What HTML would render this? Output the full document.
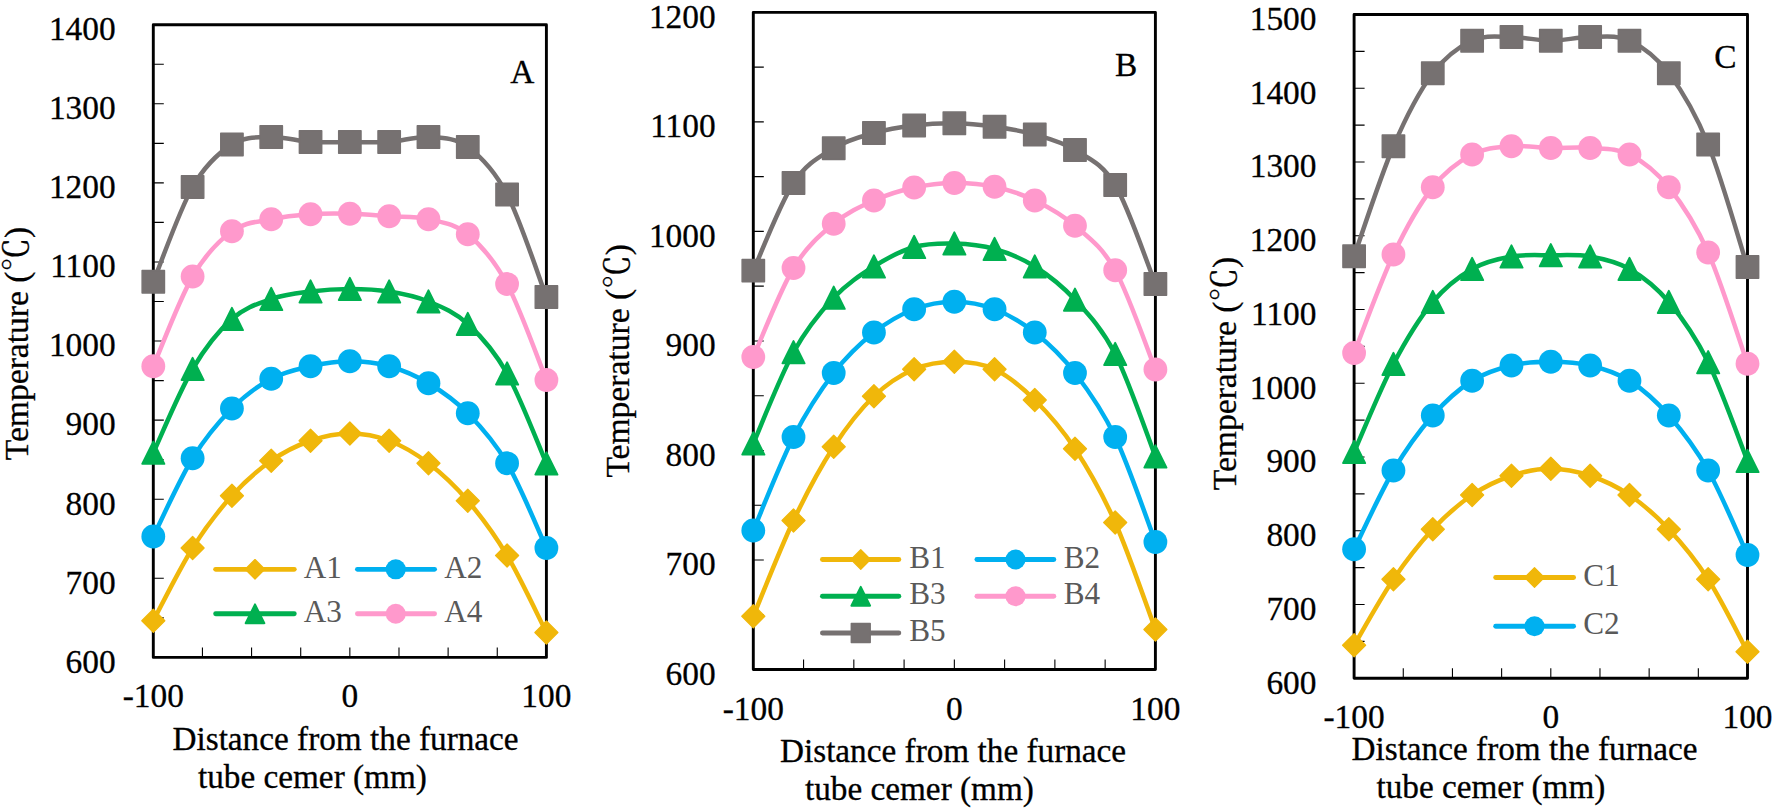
<!DOCTYPE html>
<html lang="en"><head><meta charset="utf-8"><title>Temperature distribution</title>
<style>html,body{margin:0;padding:0;background:#fff}body{width:1772px;height:810px;overflow:hidden}svg{display:block}</style></head>
<body>
<svg width="1772" height="810" viewBox="0 0 1772 810">
<rect width="1772" height="810" fill="#fff"/>
<g class="panel-A">
<path d="M153.3,617.86 h10.5 M153.3,578.31 h10.5 M153.3,538.77 h10.5 M153.3,499.23 h10.5 M153.3,459.68 h10.5 M153.3,420.14 h10.5 M153.3,380.59 h10.5 M153.3,341.05 h10.5 M153.3,301.51 h10.5 M153.3,261.96 h10.5 M153.3,222.42 h10.5 M153.3,182.88 h10.5 M153.3,143.33 h10.5 M153.3,103.79 h10.5 M153.3,64.24 h10.5 M202.44,657.4 v-10 M251.57,657.4 v-10 M300.71,657.4 v-10 M349.85,657.4 v-10 M398.99,657.4 v-10 M448.12,657.4 v-10 M497.26,657.4 v-10" stroke="#000" stroke-width="1.1" fill="none"/>
<rect x="153.3" y="24.7" width="393.1" height="632.7" fill="none" stroke="#000" stroke-width="2.9" stroke-linejoin="round"/>
<g font-family='"Liberation Serif", "Noto Serif CJK SC", serif' font-size="33.4" fill="#000" stroke="#000" stroke-width="0.3" text-anchor="end">
<text x="115.7" y="672.7">600</text>
<text x="115.7" y="593.61">700</text>
<text x="115.7" y="514.52">800</text>
<text x="115.7" y="435.44">900</text>
<text x="115.7" y="356.35">1000</text>
<text x="115.7" y="277.26">1100</text>
<text x="115.7" y="198.18">1200</text>
<text x="115.7" y="119.09">1300</text>
<text x="115.7" y="40">1400</text>
</g>
<g font-family='"Liberation Serif", "Noto Serif CJK SC", serif' font-size="33.4" fill="#000" stroke="#000" stroke-width="0.3" text-anchor="middle">
<text x="153.3" y="707.4">-100</text>
<text x="349.85" y="707.4">0</text>
<text x="546.4" y="707.4">100</text>
</g>
<path d="M153.3,620.75 C159.85,608.62 179.51,568.83 192.61,548 C205.71,527.17 218.82,510.29 231.92,495.75 C245.02,481.21 258.13,469.92 271.23,460.75 C284.33,451.58 297.44,445.29 310.54,440.75 C323.64,436.21 336.75,433.5 349.85,433.5 C362.95,433.5 376.06,435.79 389.16,440.75 C402.26,445.71 415.37,453.25 428.47,463.25 C441.57,473.25 454.68,485.38 467.78,500.75 C480.88,516.12 493.99,533.54 507.09,555.5 C520.19,577.46 539.85,619.67 546.4,632.5" fill="none" stroke="#F0B70A" stroke-width="4.5" stroke-linecap="round" stroke-linejoin="round"/>
<g><path d="M153.3,609.25 L164.8,620.75 L153.3,632.25 L141.8,620.75Z" fill="#F0B70A" stroke="#F0B70A" stroke-width="1.3" stroke-linejoin="round"/><path d="M192.61,536.5 L204.11,548 L192.61,559.5 L181.11,548Z" fill="#F0B70A" stroke="#F0B70A" stroke-width="1.3" stroke-linejoin="round"/><path d="M231.92,484.25 L243.42,495.75 L231.92,507.25 L220.42,495.75Z" fill="#F0B70A" stroke="#F0B70A" stroke-width="1.3" stroke-linejoin="round"/><path d="M271.23,449.25 L282.73,460.75 L271.23,472.25 L259.73,460.75Z" fill="#F0B70A" stroke="#F0B70A" stroke-width="1.3" stroke-linejoin="round"/><path d="M310.54,429.25 L322.04,440.75 L310.54,452.25 L299.04,440.75Z" fill="#F0B70A" stroke="#F0B70A" stroke-width="1.3" stroke-linejoin="round"/><path d="M349.85,422 L361.35,433.5 L349.85,445 L338.35,433.5Z" fill="#F0B70A" stroke="#F0B70A" stroke-width="1.3" stroke-linejoin="round"/><path d="M389.16,429.25 L400.66,440.75 L389.16,452.25 L377.66,440.75Z" fill="#F0B70A" stroke="#F0B70A" stroke-width="1.3" stroke-linejoin="round"/><path d="M428.47,451.75 L439.97,463.25 L428.47,474.75 L416.97,463.25Z" fill="#F0B70A" stroke="#F0B70A" stroke-width="1.3" stroke-linejoin="round"/><path d="M467.78,489.25 L479.28,500.75 L467.78,512.25 L456.28,500.75Z" fill="#F0B70A" stroke="#F0B70A" stroke-width="1.3" stroke-linejoin="round"/><path d="M507.09,544 L518.59,555.5 L507.09,567 L495.59,555.5Z" fill="#F0B70A" stroke="#F0B70A" stroke-width="1.3" stroke-linejoin="round"/><path d="M546.4,621 L557.9,632.5 L546.4,644 L534.9,632.5Z" fill="#F0B70A" stroke="#F0B70A" stroke-width="1.3" stroke-linejoin="round"/></g>
<path d="M153.3,536.5 C159.85,523.46 179.51,479.58 192.61,458.25 C205.71,436.92 218.82,421.75 231.92,408.5 C245.02,395.25 258.13,385.79 271.23,378.75 C284.33,371.71 297.44,369.17 310.54,366.25 C323.64,363.33 336.75,361.25 349.85,361.25 C362.95,361.25 376.06,362.58 389.16,366.25 C402.26,369.92 415.37,375.42 428.47,383.25 C441.57,391.08 454.68,399.92 467.78,413.25 C480.88,426.58 493.99,440.79 507.09,463.25 C520.19,485.71 539.85,533.88 546.4,548" fill="none" stroke="#00B0F0" stroke-width="4.5" stroke-linecap="round" stroke-linejoin="round"/>
<g><circle cx="153.3" cy="536.5" r="11.9" fill="#00B0F0"/><circle cx="192.61" cy="458.25" r="11.9" fill="#00B0F0"/><circle cx="231.92" cy="408.5" r="11.9" fill="#00B0F0"/><circle cx="271.23" cy="378.75" r="11.9" fill="#00B0F0"/><circle cx="310.54" cy="366.25" r="11.9" fill="#00B0F0"/><circle cx="349.85" cy="361.25" r="11.9" fill="#00B0F0"/><circle cx="389.16" cy="366.25" r="11.9" fill="#00B0F0"/><circle cx="428.47" cy="383.25" r="11.9" fill="#00B0F0"/><circle cx="467.78" cy="413.25" r="11.9" fill="#00B0F0"/><circle cx="507.09" cy="463.25" r="11.9" fill="#00B0F0"/><circle cx="546.4" cy="548" r="11.9" fill="#00B0F0"/></g>
<path d="M153.3,452.75 C159.85,438.79 179.51,391.29 192.61,369 C205.71,346.71 218.82,330.67 231.92,319 C245.02,307.33 258.13,303.58 271.23,299 C284.33,294.42 297.44,293.17 310.54,291.5 C323.64,289.83 336.75,289 349.85,289 C362.95,289 376.06,289.42 389.16,291.5 C402.26,293.58 415.37,296.08 428.47,301.5 C441.57,306.92 454.68,312 467.78,324 C480.88,336 493.99,350.25 507.09,373.5 C520.19,396.75 539.85,448.5 546.4,463.5" fill="none" stroke="#00B050" stroke-width="4.5" stroke-linecap="round" stroke-linejoin="round"/>
<g><path d="M153.3,441.65 L164.35,463.85 L142.25,463.85Z" fill="#00B050" stroke="#00B050" stroke-width="2" stroke-linejoin="round"/><path d="M192.61,357.9 L203.66,380.1 L181.56,380.1Z" fill="#00B050" stroke="#00B050" stroke-width="2" stroke-linejoin="round"/><path d="M231.92,307.9 L242.97,330.1 L220.87,330.1Z" fill="#00B050" stroke="#00B050" stroke-width="2" stroke-linejoin="round"/><path d="M271.23,287.9 L282.28,310.1 L260.18,310.1Z" fill="#00B050" stroke="#00B050" stroke-width="2" stroke-linejoin="round"/><path d="M310.54,280.4 L321.59,302.6 L299.49,302.6Z" fill="#00B050" stroke="#00B050" stroke-width="2" stroke-linejoin="round"/><path d="M349.85,277.9 L360.9,300.1 L338.8,300.1Z" fill="#00B050" stroke="#00B050" stroke-width="2" stroke-linejoin="round"/><path d="M389.16,280.4 L400.21,302.6 L378.11,302.6Z" fill="#00B050" stroke="#00B050" stroke-width="2" stroke-linejoin="round"/><path d="M428.47,290.4 L439.52,312.6 L417.42,312.6Z" fill="#00B050" stroke="#00B050" stroke-width="2" stroke-linejoin="round"/><path d="M467.78,312.9 L478.83,335.1 L456.73,335.1Z" fill="#00B050" stroke="#00B050" stroke-width="2" stroke-linejoin="round"/><path d="M507.09,362.4 L518.14,384.6 L496.04,384.6Z" fill="#00B050" stroke="#00B050" stroke-width="2" stroke-linejoin="round"/><path d="M546.4,452.4 L557.45,474.6 L535.35,474.6Z" fill="#00B050" stroke="#00B050" stroke-width="2" stroke-linejoin="round"/></g>
<path d="M153.3,366.25 C159.85,351.29 179.51,299 192.61,276.5 C205.71,254 218.82,240.79 231.92,231.25 C245.02,221.71 258.13,222.08 271.23,219.25 C284.33,216.42 297.44,215.17 310.54,214.25 C323.64,213.33 336.75,213.42 349.85,213.75 C362.95,214.08 376.06,215.33 389.16,216.25 C402.26,217.17 415.37,216.25 428.47,219.25 C441.57,222.25 454.68,223.46 467.78,234.25 C480.88,245.04 493.99,259.71 507.09,284 C520.19,308.29 539.85,364 546.4,380" fill="none" stroke="#FF99CC" stroke-width="4.5" stroke-linecap="round" stroke-linejoin="round"/>
<g><circle cx="153.3" cy="366.25" r="11.9" fill="#FF99CC"/><circle cx="192.61" cy="276.5" r="11.9" fill="#FF99CC"/><circle cx="231.92" cy="231.25" r="11.9" fill="#FF99CC"/><circle cx="271.23" cy="219.25" r="11.9" fill="#FF99CC"/><circle cx="310.54" cy="214.25" r="11.9" fill="#FF99CC"/><circle cx="349.85" cy="213.75" r="11.9" fill="#FF99CC"/><circle cx="389.16" cy="216.25" r="11.9" fill="#FF99CC"/><circle cx="428.47" cy="219.25" r="11.9" fill="#FF99CC"/><circle cx="467.78" cy="234.25" r="11.9" fill="#FF99CC"/><circle cx="507.09" cy="284" r="11.9" fill="#FF99CC"/><circle cx="546.4" cy="380" r="11.9" fill="#FF99CC"/></g>
<path d="M153.3,281.75 C159.85,265.96 179.51,209.88 192.61,187 C205.71,164.12 218.82,152.83 231.92,144.5 C245.02,136.17 258.13,137.42 271.23,137 C284.33,136.58 297.44,141.17 310.54,142 C323.64,142.83 336.75,142 349.85,142 C362.95,142 376.06,142.83 389.16,142 C402.26,141.17 415.37,136.17 428.47,137 C441.57,137.83 454.68,137.42 467.78,147 C480.88,156.58 493.99,169.5 507.09,194.5 C520.19,219.5 539.85,279.92 546.4,297" fill="none" stroke="#767171" stroke-width="4.5" stroke-linecap="round" stroke-linejoin="round"/>
<g><rect x="142.1" y="270.55" width="22.4" height="22.4" fill="#767171" stroke="#767171" stroke-width="1.4" stroke-linejoin="round"/><rect x="181.41" y="175.8" width="22.4" height="22.4" fill="#767171" stroke="#767171" stroke-width="1.4" stroke-linejoin="round"/><rect x="220.72" y="133.3" width="22.4" height="22.4" fill="#767171" stroke="#767171" stroke-width="1.4" stroke-linejoin="round"/><rect x="260.03" y="125.8" width="22.4" height="22.4" fill="#767171" stroke="#767171" stroke-width="1.4" stroke-linejoin="round"/><rect x="299.34" y="130.8" width="22.4" height="22.4" fill="#767171" stroke="#767171" stroke-width="1.4" stroke-linejoin="round"/><rect x="338.65" y="130.8" width="22.4" height="22.4" fill="#767171" stroke="#767171" stroke-width="1.4" stroke-linejoin="round"/><rect x="377.96" y="130.8" width="22.4" height="22.4" fill="#767171" stroke="#767171" stroke-width="1.4" stroke-linejoin="round"/><rect x="417.27" y="125.8" width="22.4" height="22.4" fill="#767171" stroke="#767171" stroke-width="1.4" stroke-linejoin="round"/><rect x="456.58" y="135.8" width="22.4" height="22.4" fill="#767171" stroke="#767171" stroke-width="1.4" stroke-linejoin="round"/><rect x="495.89" y="183.3" width="22.4" height="22.4" fill="#767171" stroke="#767171" stroke-width="1.4" stroke-linejoin="round"/><rect x="535.2" y="285.8" width="22.4" height="22.4" fill="#767171" stroke="#767171" stroke-width="1.4" stroke-linejoin="round"/></g>
<g font-family='"Liberation Serif", "Noto Serif CJK SC", serif' font-size="31.2" fill="#595959">
<path d="M215.6,569.3 H294.3" stroke="#F0B70A" stroke-width="4.8" stroke-linecap="round"/>
<path d="M255,559.58 L264.72,569.3 L255,579.02 L245.28,569.3Z" fill="#F0B70A" stroke="#F0B70A" stroke-width="1.3" stroke-linejoin="round"/>
<text x="303.8" y="577.5">A1</text>
<path d="M357.4,569.3 H434.6" stroke="#00B0F0" stroke-width="4.8" stroke-linecap="round"/>
<circle cx="395.75" cy="569.3" r="10.06" fill="#00B0F0"/>
<text x="444.3" y="577.5">A2</text>
<path d="M215.6,613.75 H294.3" stroke="#00B050" stroke-width="4.8" stroke-linecap="round"/>
<path d="M255,604.37 L264.34,623.13 L245.66,623.13Z" fill="#00B050" stroke="#00B050" stroke-width="2" stroke-linejoin="round"/>
<text x="303.8" y="621.95">A3</text>
<path d="M357.4,613.75 H434.6" stroke="#FF99CC" stroke-width="4.8" stroke-linecap="round"/>
<circle cx="395.75" cy="613.75" r="10.06" fill="#FF99CC"/>
<text x="444.3" y="621.95">A4</text>
</g>
<text x="510.3" y="82.7" font-family='"Liberation Serif", "Noto Serif CJK SC", serif' font-size="33.4" fill="#000" stroke="#000" stroke-width="0.3">A</text>
<text transform="translate(27.9,226.7) rotate(-90)" text-anchor="end" font-family='"Liberation Serif", "Noto Serif CJK SC", serif' font-size="33.6" fill="#000" stroke="#000" stroke-width="0.3">Temperature (℃)</text>
<text x="172.45" y="749.5" font-family='"Liberation Serif", "Noto Serif CJK SC", serif' font-size="33.25" fill="#000" stroke="#000" stroke-width="0.3">Distance from the furnace</text>
<text x="197.95" y="787.5" font-family='"Liberation Serif", "Noto Serif CJK SC", serif' font-size="33.25" fill="#000" stroke="#000" stroke-width="0.3">tube cemer (mm)</text>
</g>
<g class="panel-B">
<path d="M753.3,614.74 h10.5 M753.3,559.98 h10.5 M753.3,505.21 h10.5 M753.3,450.45 h10.5 M753.3,395.69 h10.5 M753.3,340.93 h10.5 M753.3,286.16 h10.5 M753.3,231.4 h10.5 M753.3,176.64 h10.5 M753.3,121.88 h10.5 M753.3,67.11 h10.5 M803.56,669.5 v-10 M853.83,669.5 v-10 M904.09,669.5 v-10 M954.35,669.5 v-10 M1004.61,669.5 v-10 M1054.88,669.5 v-10 M1105.14,669.5 v-10" stroke="#000" stroke-width="1.1" fill="none"/>
<rect x="753.3" y="12.35" width="402.1" height="657.15" fill="none" stroke="#000" stroke-width="2.9" stroke-linejoin="round"/>
<g font-family='"Liberation Serif", "Noto Serif CJK SC", serif' font-size="33.4" fill="#000" stroke="#000" stroke-width="0.3" text-anchor="end">
<text x="715.7" y="684.8">600</text>
<text x="715.7" y="575.27">700</text>
<text x="715.7" y="465.75">800</text>
<text x="715.7" y="356.23">900</text>
<text x="715.7" y="246.7">1000</text>
<text x="715.7" y="137.18">1100</text>
<text x="715.7" y="27.65">1200</text>
</g>
<g font-family='"Liberation Serif", "Noto Serif CJK SC", serif' font-size="33.4" fill="#000" stroke="#000" stroke-width="0.3" text-anchor="middle">
<text x="753.3" y="719.5">-100</text>
<text x="954.35" y="719.5">0</text>
<text x="1155.4" y="719.5">100</text>
</g>
<path d="M753.3,616.25 C760,600.29 780.11,548.75 793.51,520.5 C806.91,492.25 820.32,467.46 833.72,446.75 C847.12,426.04 860.53,409.17 873.93,396.25 C887.33,383.33 900.74,375 914.14,369.25 C927.54,363.5 940.95,361.75 954.35,361.75 C967.75,361.75 981.16,362.88 994.56,369.25 C1007.96,375.62 1021.37,386.75 1034.77,400 C1048.17,413.25 1061.58,428.33 1074.98,448.75 C1088.38,469.17 1101.79,492.38 1115.19,522.5 C1128.59,552.62 1148.7,611.67 1155.4,629.5" fill="none" stroke="#F0B70A" stroke-width="4.5" stroke-linecap="round" stroke-linejoin="round"/>
<g><path d="M753.3,604.75 L764.8,616.25 L753.3,627.75 L741.8,616.25Z" fill="#F0B70A" stroke="#F0B70A" stroke-width="1.3" stroke-linejoin="round"/><path d="M793.51,509 L805.01,520.5 L793.51,532 L782.01,520.5Z" fill="#F0B70A" stroke="#F0B70A" stroke-width="1.3" stroke-linejoin="round"/><path d="M833.72,435.25 L845.22,446.75 L833.72,458.25 L822.22,446.75Z" fill="#F0B70A" stroke="#F0B70A" stroke-width="1.3" stroke-linejoin="round"/><path d="M873.93,384.75 L885.43,396.25 L873.93,407.75 L862.43,396.25Z" fill="#F0B70A" stroke="#F0B70A" stroke-width="1.3" stroke-linejoin="round"/><path d="M914.14,357.75 L925.64,369.25 L914.14,380.75 L902.64,369.25Z" fill="#F0B70A" stroke="#F0B70A" stroke-width="1.3" stroke-linejoin="round"/><path d="M954.35,350.25 L965.85,361.75 L954.35,373.25 L942.85,361.75Z" fill="#F0B70A" stroke="#F0B70A" stroke-width="1.3" stroke-linejoin="round"/><path d="M994.56,357.75 L1006.06,369.25 L994.56,380.75 L983.06,369.25Z" fill="#F0B70A" stroke="#F0B70A" stroke-width="1.3" stroke-linejoin="round"/><path d="M1034.77,388.5 L1046.27,400 L1034.77,411.5 L1023.27,400Z" fill="#F0B70A" stroke="#F0B70A" stroke-width="1.3" stroke-linejoin="round"/><path d="M1074.98,437.25 L1086.48,448.75 L1074.98,460.25 L1063.48,448.75Z" fill="#F0B70A" stroke="#F0B70A" stroke-width="1.3" stroke-linejoin="round"/><path d="M1115.19,511 L1126.69,522.5 L1115.19,534 L1103.69,522.5Z" fill="#F0B70A" stroke="#F0B70A" stroke-width="1.3" stroke-linejoin="round"/><path d="M1155.4,618 L1166.9,629.5 L1155.4,641 L1143.9,629.5Z" fill="#F0B70A" stroke="#F0B70A" stroke-width="1.3" stroke-linejoin="round"/></g>
<path d="M753.3,530.5 C760,514.92 780.11,463.25 793.51,437 C806.91,410.75 820.32,390.42 833.72,373 C847.12,355.58 860.53,343.12 873.93,332.5 C887.33,321.88 900.74,314.38 914.14,309.25 C927.54,304.12 940.95,301.75 954.35,301.75 C967.75,301.75 981.16,304.12 994.56,309.25 C1007.96,314.38 1021.37,321.88 1034.77,332.5 C1048.17,343.12 1061.58,355.58 1074.98,373 C1088.38,390.42 1101.79,408.83 1115.19,437 C1128.59,465.17 1148.7,524.5 1155.4,542" fill="none" stroke="#00B0F0" stroke-width="4.5" stroke-linecap="round" stroke-linejoin="round"/>
<g><circle cx="753.3" cy="530.5" r="11.9" fill="#00B0F0"/><circle cx="793.51" cy="437" r="11.9" fill="#00B0F0"/><circle cx="833.72" cy="373" r="11.9" fill="#00B0F0"/><circle cx="873.93" cy="332.5" r="11.9" fill="#00B0F0"/><circle cx="914.14" cy="309.25" r="11.9" fill="#00B0F0"/><circle cx="954.35" cy="301.75" r="11.9" fill="#00B0F0"/><circle cx="994.56" cy="309.25" r="11.9" fill="#00B0F0"/><circle cx="1034.77" cy="332.5" r="11.9" fill="#00B0F0"/><circle cx="1074.98" cy="373" r="11.9" fill="#00B0F0"/><circle cx="1115.19" cy="437" r="11.9" fill="#00B0F0"/><circle cx="1155.4" cy="542" r="11.9" fill="#00B0F0"/></g>
<path d="M753.3,443.5 C760,428.29 780.11,376.54 793.51,352.25 C806.91,327.96 820.32,312.04 833.72,297.75 C847.12,283.46 860.53,274.96 873.93,266.5 C887.33,258.04 900.74,250.83 914.14,247 C927.54,243.17 940.95,243.17 954.35,243.5 C967.75,243.83 981.16,245.17 994.56,249 C1007.96,252.83 1021.37,258.04 1034.77,266.5 C1048.17,274.96 1061.58,285.17 1074.98,299.75 C1088.38,314.33 1101.79,327.88 1115.19,354 C1128.59,380.12 1148.7,439.42 1155.4,456.5" fill="none" stroke="#00B050" stroke-width="4.5" stroke-linecap="round" stroke-linejoin="round"/>
<g><path d="M753.3,432.4 L764.35,454.6 L742.25,454.6Z" fill="#00B050" stroke="#00B050" stroke-width="2" stroke-linejoin="round"/><path d="M793.51,341.15 L804.56,363.35 L782.46,363.35Z" fill="#00B050" stroke="#00B050" stroke-width="2" stroke-linejoin="round"/><path d="M833.72,286.65 L844.77,308.85 L822.67,308.85Z" fill="#00B050" stroke="#00B050" stroke-width="2" stroke-linejoin="round"/><path d="M873.93,255.4 L884.98,277.6 L862.88,277.6Z" fill="#00B050" stroke="#00B050" stroke-width="2" stroke-linejoin="round"/><path d="M914.14,235.9 L925.19,258.1 L903.09,258.1Z" fill="#00B050" stroke="#00B050" stroke-width="2" stroke-linejoin="round"/><path d="M954.35,232.4 L965.4,254.6 L943.3,254.6Z" fill="#00B050" stroke="#00B050" stroke-width="2" stroke-linejoin="round"/><path d="M994.56,237.9 L1005.61,260.1 L983.51,260.1Z" fill="#00B050" stroke="#00B050" stroke-width="2" stroke-linejoin="round"/><path d="M1034.77,255.4 L1045.82,277.6 L1023.72,277.6Z" fill="#00B050" stroke="#00B050" stroke-width="2" stroke-linejoin="round"/><path d="M1074.98,288.65 L1086.03,310.85 L1063.93,310.85Z" fill="#00B050" stroke="#00B050" stroke-width="2" stroke-linejoin="round"/><path d="M1115.19,342.9 L1126.24,365.1 L1104.14,365.1Z" fill="#00B050" stroke="#00B050" stroke-width="2" stroke-linejoin="round"/><path d="M1155.4,445.4 L1166.45,467.6 L1144.35,467.6Z" fill="#00B050" stroke="#00B050" stroke-width="2" stroke-linejoin="round"/></g>
<path d="M753.3,357 C760,342.17 780.11,290.21 793.51,268 C806.91,245.79 820.32,235 833.72,223.75 C847.12,212.5 860.53,206.54 873.93,200.5 C887.33,194.46 900.74,190.42 914.14,187.5 C927.54,184.58 940.95,183.12 954.35,183 C967.75,182.88 981.16,183.83 994.56,186.75 C1007.96,189.67 1021.37,194 1034.77,200.5 C1048.17,207 1061.58,214.12 1074.98,225.75 C1088.38,237.38 1101.79,246.29 1115.19,270.25 C1128.59,294.21 1148.7,352.96 1155.4,369.5" fill="none" stroke="#FF99CC" stroke-width="4.5" stroke-linecap="round" stroke-linejoin="round"/>
<g><circle cx="753.3" cy="357" r="11.9" fill="#FF99CC"/><circle cx="793.51" cy="268" r="11.9" fill="#FF99CC"/><circle cx="833.72" cy="223.75" r="11.9" fill="#FF99CC"/><circle cx="873.93" cy="200.5" r="11.9" fill="#FF99CC"/><circle cx="914.14" cy="187.5" r="11.9" fill="#FF99CC"/><circle cx="954.35" cy="183" r="11.9" fill="#FF99CC"/><circle cx="994.56" cy="186.75" r="11.9" fill="#FF99CC"/><circle cx="1034.77" cy="200.5" r="11.9" fill="#FF99CC"/><circle cx="1074.98" cy="225.75" r="11.9" fill="#FF99CC"/><circle cx="1115.19" cy="270.25" r="11.9" fill="#FF99CC"/><circle cx="1155.4" cy="369.5" r="11.9" fill="#FF99CC"/></g>
<path d="M753.3,270.6 C760,256 780.11,203.39 793.51,183 C806.91,162.61 820.32,156.58 833.72,148.25 C847.12,139.92 860.53,136.79 873.93,133 C887.33,129.21 900.74,127.12 914.14,125.5 C927.54,123.88 940.95,123.04 954.35,123.25 C967.75,123.46 981.16,124.88 994.56,126.75 C1007.96,128.62 1021.37,130.62 1034.77,134.5 C1048.17,138.38 1061.58,141.58 1074.98,150 C1088.38,158.42 1101.79,162.67 1115.19,185 C1128.59,207.33 1148.7,267.5 1155.4,284" fill="none" stroke="#767171" stroke-width="4.5" stroke-linecap="round" stroke-linejoin="round"/>
<g><rect x="742.1" y="259.4" width="22.4" height="22.4" fill="#767171" stroke="#767171" stroke-width="1.4" stroke-linejoin="round"/><rect x="782.31" y="171.8" width="22.4" height="22.4" fill="#767171" stroke="#767171" stroke-width="1.4" stroke-linejoin="round"/><rect x="822.52" y="137.05" width="22.4" height="22.4" fill="#767171" stroke="#767171" stroke-width="1.4" stroke-linejoin="round"/><rect x="862.73" y="121.8" width="22.4" height="22.4" fill="#767171" stroke="#767171" stroke-width="1.4" stroke-linejoin="round"/><rect x="902.94" y="114.3" width="22.4" height="22.4" fill="#767171" stroke="#767171" stroke-width="1.4" stroke-linejoin="round"/><rect x="943.15" y="112.05" width="22.4" height="22.4" fill="#767171" stroke="#767171" stroke-width="1.4" stroke-linejoin="round"/><rect x="983.36" y="115.55" width="22.4" height="22.4" fill="#767171" stroke="#767171" stroke-width="1.4" stroke-linejoin="round"/><rect x="1023.57" y="123.3" width="22.4" height="22.4" fill="#767171" stroke="#767171" stroke-width="1.4" stroke-linejoin="round"/><rect x="1063.78" y="138.8" width="22.4" height="22.4" fill="#767171" stroke="#767171" stroke-width="1.4" stroke-linejoin="round"/><rect x="1103.99" y="173.8" width="22.4" height="22.4" fill="#767171" stroke="#767171" stroke-width="1.4" stroke-linejoin="round"/><rect x="1144.2" y="272.8" width="22.4" height="22.4" fill="#767171" stroke="#767171" stroke-width="1.4" stroke-linejoin="round"/></g>
<g font-family='"Liberation Serif", "Noto Serif CJK SC", serif' font-size="31.2" fill="#595959">
<path d="M822.4,559.5 H898.85" stroke="#F0B70A" stroke-width="4.8" stroke-linecap="round"/>
<path d="M860.75,549.78 L870.47,559.5 L860.75,569.22 L851.03,559.5Z" fill="#F0B70A" stroke="#F0B70A" stroke-width="1.3" stroke-linejoin="round"/>
<text x="909.3" y="567.7">B1</text>
<path d="M976.9,559.5 H1053.85" stroke="#00B0F0" stroke-width="4.8" stroke-linecap="round"/>
<circle cx="1015.5" cy="559.5" r="10.06" fill="#00B0F0"/>
<text x="1063.8" y="567.7">B2</text>
<path d="M822.4,596.25 H898.85" stroke="#00B050" stroke-width="4.8" stroke-linecap="round"/>
<path d="M860.75,586.87 L870.09,605.63 L851.41,605.63Z" fill="#00B050" stroke="#00B050" stroke-width="2" stroke-linejoin="round"/>
<text x="909.3" y="604.45">B3</text>
<path d="M976.9,596.25 H1053.85" stroke="#FF99CC" stroke-width="4.8" stroke-linecap="round"/>
<circle cx="1015.5" cy="596.25" r="10.06" fill="#FF99CC"/>
<text x="1063.8" y="604.45">B4</text>
<path d="M822.4,633 H898.85" stroke="#767171" stroke-width="4.8" stroke-linecap="round"/>
<rect x="851.29" y="623.54" width="18.93" height="18.93" fill="#767171" stroke="#767171" stroke-width="1.4" stroke-linejoin="round"/>
<text x="909.3" y="641.2">B5</text>
</g>
<text x="1115" y="76" font-family='"Liberation Serif", "Noto Serif CJK SC", serif' font-size="33.4" fill="#000" stroke="#000" stroke-width="0.3">B</text>
<text transform="translate(628.5,244.1) rotate(-90)" text-anchor="end" font-family='"Liberation Serif", "Noto Serif CJK SC", serif' font-size="33.6" fill="#000" stroke="#000" stroke-width="0.3">Temperature (℃)</text>
<text x="779.95" y="761.75" font-family='"Liberation Serif", "Noto Serif CJK SC", serif' font-size="33.25" fill="#000" stroke="#000" stroke-width="0.3">Distance from the furnace</text>
<text x="804.95" y="799.5" font-family='"Liberation Serif", "Noto Serif CJK SC", serif' font-size="33.25" fill="#000" stroke="#000" stroke-width="0.3">tube cemer (mm)</text>
</g>
<g class="panel-C">
<path d="M1354.1,641.42 h10.5 M1354.1,604.54 h10.5 M1354.1,567.67 h10.5 M1354.1,530.79 h10.5 M1354.1,493.91 h10.5 M1354.1,457.03 h10.5 M1354.1,420.16 h10.5 M1354.1,383.28 h10.5 M1354.1,346.4 h10.5 M1354.1,309.52 h10.5 M1354.1,272.64 h10.5 M1354.1,235.77 h10.5 M1354.1,198.89 h10.5 M1354.1,162.01 h10.5 M1354.1,125.13 h10.5 M1354.1,88.26 h10.5 M1354.1,51.38 h10.5 M1403.27,678.3 v-10 M1452.45,678.3 v-10 M1501.62,678.3 v-10 M1550.8,678.3 v-10 M1599.97,678.3 v-10 M1649.15,678.3 v-10 M1698.33,678.3 v-10" stroke="#000" stroke-width="1.1" fill="none"/>
<rect x="1354.1" y="14.5" width="393.4" height="663.8" fill="none" stroke="#000" stroke-width="2.9" stroke-linejoin="round"/>
<g font-family='"Liberation Serif", "Noto Serif CJK SC", serif' font-size="33.4" fill="#000" stroke="#000" stroke-width="0.3" text-anchor="end">
<text x="1316.5" y="693.6">600</text>
<text x="1316.5" y="619.84">700</text>
<text x="1316.5" y="546.09">800</text>
<text x="1316.5" y="472.33">900</text>
<text x="1316.5" y="398.58">1000</text>
<text x="1316.5" y="324.82">1100</text>
<text x="1316.5" y="251.07">1200</text>
<text x="1316.5" y="177.31">1300</text>
<text x="1316.5" y="103.56">1400</text>
<text x="1316.5" y="29.8">1500</text>
</g>
<g font-family='"Liberation Serif", "Noto Serif CJK SC", serif' font-size="33.4" fill="#000" stroke="#000" stroke-width="0.3" text-anchor="middle">
<text x="1354.1" y="728.3">-100</text>
<text x="1550.8" y="728.3">0</text>
<text x="1747.5" y="728.3">100</text>
</g>
<path d="M1354.1,645.25 C1360.66,634.25 1380.33,598.58 1393.44,579.25 C1406.55,559.92 1419.67,543.29 1432.78,529.25 C1445.89,515.21 1459.01,503.92 1472.12,495 C1485.23,486.08 1498.35,480.12 1511.46,475.75 C1524.57,471.38 1537.69,468.75 1550.8,468.75 C1563.91,468.75 1577.03,471.38 1590.14,475.75 C1603.25,480.12 1616.37,486.08 1629.48,495 C1642.59,503.92 1655.71,515.21 1668.82,529.25 C1681.93,543.29 1695.05,558.84 1708.16,579.25 C1721.27,599.66 1740.94,639.62 1747.5,651.7" fill="none" stroke="#F0B70A" stroke-width="4.5" stroke-linecap="round" stroke-linejoin="round"/>
<g><path d="M1354.1,633.75 L1365.6,645.25 L1354.1,656.75 L1342.6,645.25Z" fill="#F0B70A" stroke="#F0B70A" stroke-width="1.3" stroke-linejoin="round"/><path d="M1393.44,567.75 L1404.94,579.25 L1393.44,590.75 L1381.94,579.25Z" fill="#F0B70A" stroke="#F0B70A" stroke-width="1.3" stroke-linejoin="round"/><path d="M1432.78,517.75 L1444.28,529.25 L1432.78,540.75 L1421.28,529.25Z" fill="#F0B70A" stroke="#F0B70A" stroke-width="1.3" stroke-linejoin="round"/><path d="M1472.12,483.5 L1483.62,495 L1472.12,506.5 L1460.62,495Z" fill="#F0B70A" stroke="#F0B70A" stroke-width="1.3" stroke-linejoin="round"/><path d="M1511.46,464.25 L1522.96,475.75 L1511.46,487.25 L1499.96,475.75Z" fill="#F0B70A" stroke="#F0B70A" stroke-width="1.3" stroke-linejoin="round"/><path d="M1550.8,457.25 L1562.3,468.75 L1550.8,480.25 L1539.3,468.75Z" fill="#F0B70A" stroke="#F0B70A" stroke-width="1.3" stroke-linejoin="round"/><path d="M1590.14,464.25 L1601.64,475.75 L1590.14,487.25 L1578.64,475.75Z" fill="#F0B70A" stroke="#F0B70A" stroke-width="1.3" stroke-linejoin="round"/><path d="M1629.48,483.5 L1640.98,495 L1629.48,506.5 L1617.98,495Z" fill="#F0B70A" stroke="#F0B70A" stroke-width="1.3" stroke-linejoin="round"/><path d="M1668.82,517.75 L1680.32,529.25 L1668.82,540.75 L1657.32,529.25Z" fill="#F0B70A" stroke="#F0B70A" stroke-width="1.3" stroke-linejoin="round"/><path d="M1708.16,567.75 L1719.66,579.25 L1708.16,590.75 L1696.66,579.25Z" fill="#F0B70A" stroke="#F0B70A" stroke-width="1.3" stroke-linejoin="round"/><path d="M1747.5,640.2 L1759,651.7 L1747.5,663.2 L1736,651.7Z" fill="#F0B70A" stroke="#F0B70A" stroke-width="1.3" stroke-linejoin="round"/></g>
<path d="M1354.1,549.25 C1360.66,536.12 1380.33,492.79 1393.44,470.5 C1406.55,448.21 1419.67,430.46 1432.78,415.5 C1445.89,400.54 1459.01,389.08 1472.12,380.75 C1485.23,372.42 1498.35,368.67 1511.46,365.5 C1524.57,362.33 1537.69,361.75 1550.8,361.75 C1563.91,361.75 1577.03,362.33 1590.14,365.5 C1603.25,368.67 1616.37,372.42 1629.48,380.75 C1642.59,389.08 1655.71,400.54 1668.82,415.5 C1681.93,430.46 1695.05,447.25 1708.16,470.5 C1721.27,493.75 1740.94,540.92 1747.5,555" fill="none" stroke="#00B0F0" stroke-width="4.5" stroke-linecap="round" stroke-linejoin="round"/>
<g><circle cx="1354.1" cy="549.25" r="11.9" fill="#00B0F0"/><circle cx="1393.44" cy="470.5" r="11.9" fill="#00B0F0"/><circle cx="1432.78" cy="415.5" r="11.9" fill="#00B0F0"/><circle cx="1472.12" cy="380.75" r="11.9" fill="#00B0F0"/><circle cx="1511.46" cy="365.5" r="11.9" fill="#00B0F0"/><circle cx="1550.8" cy="361.75" r="11.9" fill="#00B0F0"/><circle cx="1590.14" cy="365.5" r="11.9" fill="#00B0F0"/><circle cx="1629.48" cy="380.75" r="11.9" fill="#00B0F0"/><circle cx="1668.82" cy="415.5" r="11.9" fill="#00B0F0"/><circle cx="1708.16" cy="470.5" r="11.9" fill="#00B0F0"/><circle cx="1747.5" cy="555" r="11.9" fill="#00B0F0"/></g>
<path d="M1354.1,452 C1360.66,437.33 1380.33,389 1393.44,364 C1406.55,339 1419.67,317.83 1432.78,302 C1445.89,286.17 1459.01,276.58 1472.12,269 C1485.23,261.42 1498.35,258.79 1511.46,256.5 C1524.57,254.21 1537.69,255.25 1550.8,255.25 C1563.91,255.25 1577.03,254.21 1590.14,256.5 C1603.25,258.79 1616.37,261.42 1629.48,269 C1642.59,276.58 1655.71,286.46 1668.82,302 C1681.93,317.54 1695.05,335.75 1708.16,362.25 C1721.27,388.75 1740.94,444.54 1747.5,461" fill="none" stroke="#00B050" stroke-width="4.5" stroke-linecap="round" stroke-linejoin="round"/>
<g><path d="M1354.1,440.9 L1365.15,463.1 L1343.05,463.1Z" fill="#00B050" stroke="#00B050" stroke-width="2" stroke-linejoin="round"/><path d="M1393.44,352.9 L1404.49,375.1 L1382.39,375.1Z" fill="#00B050" stroke="#00B050" stroke-width="2" stroke-linejoin="round"/><path d="M1432.78,290.9 L1443.83,313.1 L1421.73,313.1Z" fill="#00B050" stroke="#00B050" stroke-width="2" stroke-linejoin="round"/><path d="M1472.12,257.9 L1483.17,280.1 L1461.07,280.1Z" fill="#00B050" stroke="#00B050" stroke-width="2" stroke-linejoin="round"/><path d="M1511.46,245.4 L1522.51,267.6 L1500.41,267.6Z" fill="#00B050" stroke="#00B050" stroke-width="2" stroke-linejoin="round"/><path d="M1550.8,244.15 L1561.85,266.35 L1539.75,266.35Z" fill="#00B050" stroke="#00B050" stroke-width="2" stroke-linejoin="round"/><path d="M1590.14,245.4 L1601.19,267.6 L1579.09,267.6Z" fill="#00B050" stroke="#00B050" stroke-width="2" stroke-linejoin="round"/><path d="M1629.48,257.9 L1640.53,280.1 L1618.43,280.1Z" fill="#00B050" stroke="#00B050" stroke-width="2" stroke-linejoin="round"/><path d="M1668.82,290.9 L1679.87,313.1 L1657.77,313.1Z" fill="#00B050" stroke="#00B050" stroke-width="2" stroke-linejoin="round"/><path d="M1708.16,351.15 L1719.21,373.35 L1697.11,373.35Z" fill="#00B050" stroke="#00B050" stroke-width="2" stroke-linejoin="round"/><path d="M1747.5,449.9 L1758.55,472.1 L1736.45,472.1Z" fill="#00B050" stroke="#00B050" stroke-width="2" stroke-linejoin="round"/></g>
<path d="M1354.1,353 C1360.66,336.58 1380.33,282.12 1393.44,254.5 C1406.55,226.88 1419.67,203.92 1432.78,187.25 C1445.89,170.58 1459.01,161.33 1472.12,154.5 C1485.23,147.67 1498.35,147.33 1511.46,146.25 C1524.57,145.17 1537.69,147.71 1550.8,148 C1563.91,148.29 1577.03,146.92 1590.14,148 C1603.25,149.08 1616.37,147.96 1629.48,154.5 C1642.59,161.04 1655.71,170.92 1668.82,187.25 C1681.93,203.58 1695.05,223.08 1708.16,252.5 C1721.27,281.92 1740.94,345.21 1747.5,363.75" fill="none" stroke="#FF99CC" stroke-width="4.5" stroke-linecap="round" stroke-linejoin="round"/>
<g><circle cx="1354.1" cy="353" r="11.9" fill="#FF99CC"/><circle cx="1393.44" cy="254.5" r="11.9" fill="#FF99CC"/><circle cx="1432.78" cy="187.25" r="11.9" fill="#FF99CC"/><circle cx="1472.12" cy="154.5" r="11.9" fill="#FF99CC"/><circle cx="1511.46" cy="146.25" r="11.9" fill="#FF99CC"/><circle cx="1550.8" cy="148" r="11.9" fill="#FF99CC"/><circle cx="1590.14" cy="148" r="11.9" fill="#FF99CC"/><circle cx="1629.48" cy="154.5" r="11.9" fill="#FF99CC"/><circle cx="1668.82" cy="187.25" r="11.9" fill="#FF99CC"/><circle cx="1708.16" cy="252.5" r="11.9" fill="#FF99CC"/><circle cx="1747.5" cy="363.75" r="11.9" fill="#FF99CC"/></g>
<path d="M1354.1,256.25 C1360.66,237.92 1380.33,176.75 1393.44,146.25 C1406.55,115.75 1419.67,90.83 1432.78,73.25 C1445.89,55.67 1459.01,46.79 1472.12,40.75 C1485.23,34.71 1498.35,37 1511.46,37 C1524.57,37 1537.69,40.75 1550.8,40.75 C1563.91,40.75 1577.03,37 1590.14,37 C1603.25,37 1616.37,34.71 1629.48,40.75 C1642.59,46.79 1655.71,55.96 1668.82,73.25 C1681.93,90.54 1695.05,112.21 1708.16,144.5 C1721.27,176.79 1740.94,246.58 1747.5,267" fill="none" stroke="#767171" stroke-width="4.5" stroke-linecap="round" stroke-linejoin="round"/>
<g><rect x="1342.9" y="245.05" width="22.4" height="22.4" fill="#767171" stroke="#767171" stroke-width="1.4" stroke-linejoin="round"/><rect x="1382.24" y="135.05" width="22.4" height="22.4" fill="#767171" stroke="#767171" stroke-width="1.4" stroke-linejoin="round"/><rect x="1421.58" y="62.05" width="22.4" height="22.4" fill="#767171" stroke="#767171" stroke-width="1.4" stroke-linejoin="round"/><rect x="1460.92" y="29.55" width="22.4" height="22.4" fill="#767171" stroke="#767171" stroke-width="1.4" stroke-linejoin="round"/><rect x="1500.26" y="25.8" width="22.4" height="22.4" fill="#767171" stroke="#767171" stroke-width="1.4" stroke-linejoin="round"/><rect x="1539.6" y="29.55" width="22.4" height="22.4" fill="#767171" stroke="#767171" stroke-width="1.4" stroke-linejoin="round"/><rect x="1578.94" y="25.8" width="22.4" height="22.4" fill="#767171" stroke="#767171" stroke-width="1.4" stroke-linejoin="round"/><rect x="1618.28" y="29.55" width="22.4" height="22.4" fill="#767171" stroke="#767171" stroke-width="1.4" stroke-linejoin="round"/><rect x="1657.62" y="62.05" width="22.4" height="22.4" fill="#767171" stroke="#767171" stroke-width="1.4" stroke-linejoin="round"/><rect x="1696.96" y="133.3" width="22.4" height="22.4" fill="#767171" stroke="#767171" stroke-width="1.4" stroke-linejoin="round"/><rect x="1736.3" y="255.8" width="22.4" height="22.4" fill="#767171" stroke="#767171" stroke-width="1.4" stroke-linejoin="round"/></g>
<g font-family='"Liberation Serif", "Noto Serif CJK SC", serif' font-size="31.2" fill="#595959">
<path d="M1495.65,577.5 H1573.6" stroke="#F0B70A" stroke-width="4.8" stroke-linecap="round"/>
<path d="M1534.5,567.78 L1544.22,577.5 L1534.5,587.22 L1524.78,577.5Z" fill="#F0B70A" stroke="#F0B70A" stroke-width="1.3" stroke-linejoin="round"/>
<text x="1583.3" y="585.7">C1</text>
<path d="M1495.65,626.25 H1573.6" stroke="#00B0F0" stroke-width="4.8" stroke-linecap="round"/>
<circle cx="1534.5" cy="626.25" r="10.06" fill="#00B0F0"/>
<text x="1583.3" y="634.45">C2</text>
</g>
<text x="1714.3" y="68.3" font-family='"Liberation Serif", "Noto Serif CJK SC", serif' font-size="33.4" fill="#000" stroke="#000" stroke-width="0.3">C</text>
<text transform="translate(1235.6,256.7) rotate(-90)" text-anchor="end" font-family='"Liberation Serif", "Noto Serif CJK SC", serif' font-size="33.6" fill="#000" stroke="#000" stroke-width="0.3">Temperature (℃)</text>
<text x="1351.45" y="760" font-family='"Liberation Serif", "Noto Serif CJK SC", serif' font-size="33.25" fill="#000" stroke="#000" stroke-width="0.3">Distance from the furnace</text>
<text x="1376.45" y="798" font-family='"Liberation Serif", "Noto Serif CJK SC", serif' font-size="33.25" fill="#000" stroke="#000" stroke-width="0.3">tube cemer (mm)</text>
</g>
</svg>
</body></html>
